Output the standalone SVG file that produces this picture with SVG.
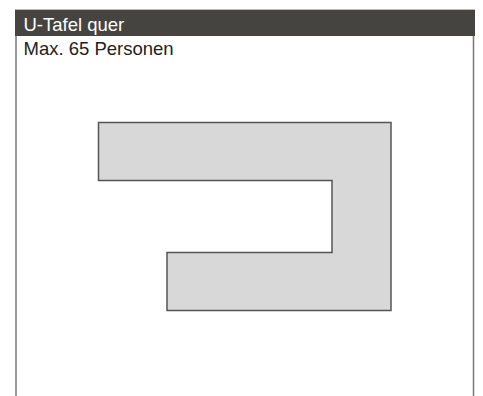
<svg xmlns="http://www.w3.org/2000/svg" width="483" height="396" viewBox="0 0 483 396">
<style>
.t{font-family:"Liberation Sans",Arial,sans-serif;font-size:18.5px}
</style>
<rect width="483" height="396" fill="#ffffff"/>
<g id="frame">
<line x1="16" y1="36" x2="16" y2="396" stroke="#7a7a7a" stroke-width="1.5"/>
<line x1="473.5" y1="36" x2="473.5" y2="396" stroke="#7a7a7a" stroke-width="1.5"/>
<line x1="15" y1="9.5" x2="475" y2="9.5" stroke="#bbbbbb" stroke-width="1"/>
<rect x="15" y="10" width="460" height="26" fill="#454441"/>
<text class="t" x="23.5" y="31" fill="#ffffff">U-Tafel quer</text>
<text class="t" x="23.5" y="55" fill="#222222">Max. 65 Personen</text>
</g>
<g id="table">
<path d="M98.5 122.5 H391 V310.5 H167 V252.5 H332 V180.5 H98.5 Z" fill="#d8d8d8" stroke="#555555" stroke-width="1.5"/>
</g>
<g id="connectors"/>
</svg>
